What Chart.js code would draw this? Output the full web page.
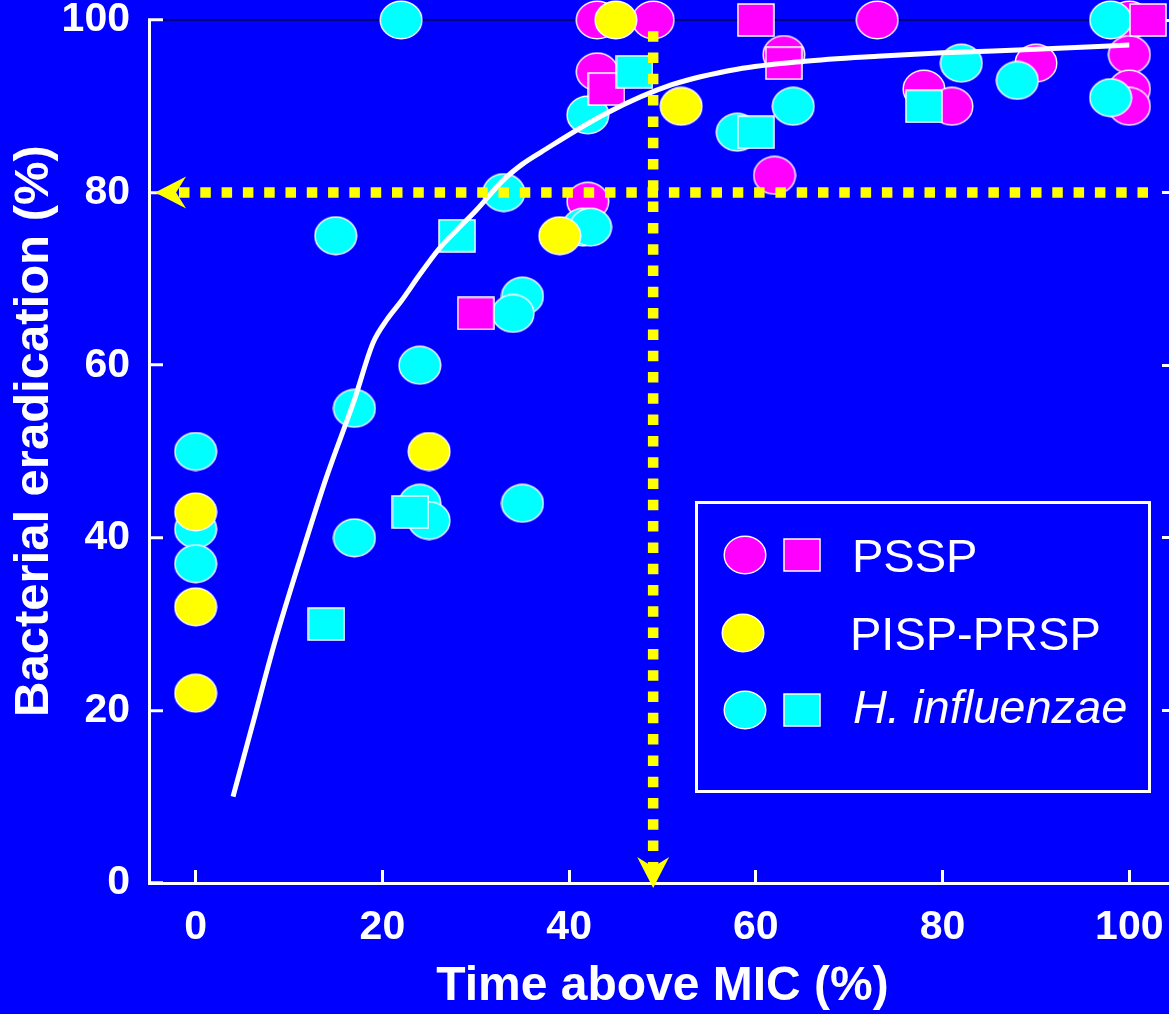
<!DOCTYPE html>
<html>
<head>
<meta charset="utf-8">
<script src="https://cdn.jsdelivr.net/npm/chart.js@4.4.1/dist/chart.umd.min.js"></script>
<style>
html, body { margin: 0; padding: 0; background: #0000FF; overflow: hidden; }
#wrap { width: 1169px; height: 1014px; overflow: hidden; position: relative; background: #0000FF; }
canvas { display: block; }
</style>
</head>
<body>
<div id="wrap"><canvas id="c" width="1200" height="1014" style="width:1200px;height:1014px"></canvas></div>
<script>
// ---------- DATA ----------
const xTickValues = [0, 20, 40, 60, 80, 100];
const yTickValues = [0, 20, 40, 60, 80, 100];

const legendLabels = ['PSSP', 'PISP-PRSP', 'H. influenzae'];
const xTitle = 'Time above MIC (%)';
const yTitle = 'Bacterial eradication (%)';

// PSSP (magenta) circles and squares
const psspCircleX = [43, 49, 73, 100, 43, 63, 62, 42, 78, 81, 90, 100, 100, 100];
const psspCircleY = [100, 100, 100, 100, 94, 96, 82, 79, 92, 90, 95, 96, 92, 90];
const psspSquareX = [60, 102, 44, 63, 30];
const psspSquareY = [100, 100, 92, 95, 66];

// PISP-PRSP (yellow) circles
const pispCircleX = [45, 52, 39, 25, 0, 0, 0];
const pispCircleY = [100, 90, 75, 50, 43, 32, 22];

// H. influenzae (cyan) circles and squares
const hiCircleX = [22, 98, 42, 64, 58, 82, 88, 98, 33, 15, 41.5, 42.3, 35, 34, 24, 17, 0, 24, 25, 35, 17, 0, 0];
const hiCircleY = [100, 100, 89, 90, 87, 95, 93, 91, 80, 75, 76, 76, 68, 66, 60, 55, 50, 44, 42, 44, 40, 41, 37];
const hiSquareX = [47, 60, 78, 28, 23, 14];
const hiSquareY = [94, 87, 90, 75, 43, 30];

// Fitted curve
const curveX = [4, 6, 8.5, 11.5, 14, 17, 19, 20.5, 22, 24, 26, 28, 30, 33, 35, 37, 44, 51, 58, 65, 73, 80, 90, 100];
const curveY = [10, 18, 28, 38.6, 47, 56, 62.6, 65.3, 67.4, 70.5, 73.4, 75.7, 77.9, 81.5, 83.3, 84.7, 89.2, 92.5, 94.3, 95.2, 95.8, 96.2, 96.6, 97.1];

// Dotted reference lines (80% eradication / 49% time above MIC)
const hLineX = [102, -2.1];
const hLineY = [80, 80];
const vLineX = [49, 49];
const vLineY = [98.7, 1.85];

// ---------- HELPERS ----------
const zip = (xs, ys) => xs.map((x, i) => ({ x: x, y: ys[i] }));
const MAGENTA = '#FF00FF', YELLOW = '#FFFF00', CYAN = '#00FFFF';
const FONT = '"Liberation Sans", Arial, Helvetica, sans-serif';

function ellipseImg(fill) {
  const c = document.createElement('canvas');
  c.width = 44; c.height = 40;
  const g = c.getContext('2d');
  g.beginPath();
  g.ellipse(22, 20, 20.8, 18.8, 0, 0, Math.PI * 2);
  g.fillStyle = fill; g.fill();
  g.lineWidth = 1.4; g.strokeStyle = '#FFFFFF'; g.stroke();
  return c;
}
function squareImg(fill) {
  const c = document.createElement('canvas');
  c.width = 38; c.height = 34;
  const g = c.getContext('2d');
  g.fillStyle = fill; g.fillRect(1, 1, 36, 32);
  g.lineWidth = 1.5; g.strokeStyle = '#FFFFFF'; g.strokeRect(1, 1, 36, 32);
  return c;
}
const imgs = {
  mc: ellipseImg(MAGENTA), ms: squareImg(MAGENTA),
  yc: ellipseImg(YELLOW),
  cc: ellipseImg(CYAN), cs: squareImg(CYAN)
};

function markerSet(label, data, img, order) {
  return { type: 'scatter', label: label, data: data, pointStyle: img, pointRadius: 19, pointHoverRadius: 19,
           backgroundColor: 'rgba(0,0,0,0)', borderColor: 'rgba(0,0,0,0)', clip: false, order: order };
}
function dotted(data, order) {
  return { type: 'line', data: data, borderColor: YELLOW, borderWidth: 10.5, borderDash: [10.5, 10.8],
           borderCapStyle: 'butt', pointRadius: 0, fill: false, clip: false, order: order };
}

// arrowheads placed at the last point of each dotted line
const arrowPlugin = {
  id: 'arrowHeads',
  afterDatasetsDraw(chart) {
    const { ctx, scales } = chart;
    const heads = [[hLineX, hLineY], [vLineX, vLineY]];
    heads.forEach(([xs, ys]) => {
      const n = xs.length;
      const x1 = scales.x.getPixelForValue(xs[n - 2]), y1 = scales.y.getPixelForValue(ys[n - 2]);
      const x2 = scales.x.getPixelForValue(xs[n - 1]), y2 = scales.y.getPixelForValue(ys[n - 1]);
      const len = Math.hypot(x2 - x1, y2 - y1);
      const dx = (x2 - x1) / len, dy = (y2 - y1) / len;
      const px = -dy, py = dx;
      const tipX = x2 + dx * 21, tipY = y2 + dy * 21;
      const bx = x2 - dx * 10, by = y2 - dy * 10;
      ctx.save();
      ctx.fillStyle = YELLOW;
      ctx.beginPath();
      ctx.moveTo(tipX, tipY);
      ctx.lineTo(bx + px * 16, by + py * 16);
      ctx.lineTo(x2, y2);
      ctx.lineTo(bx - px * 16, by - py * 16);
      ctx.closePath();
      ctx.fill();
      ctx.restore();
    });
  }
};

const legendPlugin = {
  id: 'boxLegend',
  afterDraw(chart) {
    const ctx = chart.ctx;
    ctx.save();
    ctx.strokeStyle = '#FFFFFF';
    ctx.lineWidth = 3;
    ctx.strokeRect(696.5, 502.5, 453, 289);
    const rows = [
      { y: 555, imgs: [imgs.mc, imgs.ms], text: legendLabels[0], base: 572, tx: 852, italic: false },
      { y: 633, imgs: [imgs.yc], text: legendLabels[1], base: 650, tx: 850, italic: false },
      { y: 710, imgs: [imgs.cc, imgs.cs], text: legendLabels[2], base: 723, tx: 853, italic: true }
    ];
    rows.forEach((r, i) => {
      const cx = i === 1 ? 743 : 745;
      ctx.drawImage(r.imgs[0], cx - r.imgs[0].width / 2, r.y - r.imgs[0].height / 2);
      if (r.imgs[1]) ctx.drawImage(r.imgs[1], 802 - r.imgs[1].width / 2, r.y - r.imgs[1].height / 2);
      ctx.fillStyle = '#FFFFFF';
      ctx.textBaseline = 'alphabetic';
      ctx.textAlign = 'left';
      ctx.font = (r.italic ? 'italic ' : '') + '47px ' + FONT;
      ctx.fillText(r.text, r.tx, r.base);
    });
    ctx.restore();
  }
};

const tickFont = { family: FONT, size: 41, weight: 'bold' };
const xTitleFont = { family: FONT, size: 48, weight: 'bold', lineHeight: 1 };
const yTitleFont = { family: FONT, size: 49, weight: 'bold', lineHeight: 1 };
const setTicks = vals => scale => { scale.ticks = vals.map(v => ({ value: v })); };
const noPad = s => { s.paddingTop = 0; s.paddingBottom = 0; s.paddingLeft = 0; s.paddingRight = 0; };

new Chart(document.getElementById('c'), {
  type: 'scatter',
  data: {
    datasets: [
      dotted(zip(vLineX, vLineY), 0),
      dotted(zip(hLineX, hLineY), 1),
      { type: 'line', data: zip(curveX, curveY), borderColor: '#FFFFFF', borderWidth: 5,
        cubicInterpolationMode: 'monotone', pointRadius: 0, fill: false, clip: false, order: 2 },
      markerSet('H. influenzae', zip(hiSquareX, hiSquareY), imgs.cs, 3),
      markerSet('PSSP', zip(psspSquareX, psspSquareY), imgs.ms, 4),
      markerSet('PISP-PRSP', zip(pispCircleX, pispCircleY), imgs.yc, 5),
      markerSet('H. influenzae', zip(hiCircleX, hiCircleY), imgs.cc, 6),
      markerSet('PSSP', zip(psspCircleX, psspCircleY), imgs.mc, 7)
    ]
  },
  options: {
    responsive: false,
    devicePixelRatio: 1,
    animation: false,
    events: [],
    layout: { padding: { top: 20, left: 0, right: 0, bottom: 0 } },
    plugins: { legend: { display: false }, tooltip: { enabled: false } },
    scales: {
      x: {
        type: 'linear', position: 'bottom', min: -5, max: 105,
        afterBuildTicks: setTicks(xTickValues),
        afterFit: s => { s.height = 131; noPad(s); },
        ticks: { color: '#FFFFFF', font: tickFont, padding: 33, maxRotation: 0, autoSkip: false },
        grid: { drawOnChartArea: false, drawTicks: true, tickLength: -13, tickColor: '#FFFFFF', tickWidth: 3 },
        border: { display: true, color: '#FFFFFF', width: 3 },
        title: { display: true, text: xTitle, color: '#FFFFFF', font: xTitleFont, padding: { top: 0, bottom: 3 } }
      },
      y: {
        type: 'linear', position: 'left', min: 0, max: 100,
        afterBuildTicks: setTicks(yTickValues),
        afterFit: s => { s.width = 149; noPad(s); },
        ticks: { color: '#FFFFFF', font: tickFont, padding: 33, autoSkip: false },
        grid: {
          drawOnChartArea: true, drawTicks: true, tickLength: -14, tickColor: '#FFFFFF', tickWidth: 3,
          color: c => (c.tick && c.tick.value === 100) ? '#000000' : 'rgba(0,0,0,0)', lineWidth: 1.5
        },
        border: { display: true, color: '#FFFFFF', width: 3 },
        title: { display: true, text: '   ' + yTitle, color: '#FFFFFF', font: yTitleFont, padding: { top: 10, bottom: 0 } }
      },
      y2: {
        type: 'linear', position: 'right', min: 0, max: 100,
        afterBuildTicks: setTicks(yTickValues),
        afterFit: s => { s.width = 24; noPad(s); },
        ticks: { display: false },
        grid: { drawOnChartArea: false, drawTicks: true, tickLength: -14, tickColor: '#FFFFFF', tickWidth: 3 },
        border: { display: true, color: '#FFFFFF', width: 3 }
      }
    }
  },
  plugins: [arrowPlugin, legendPlugin]
});
</script>
</body>
</html>
